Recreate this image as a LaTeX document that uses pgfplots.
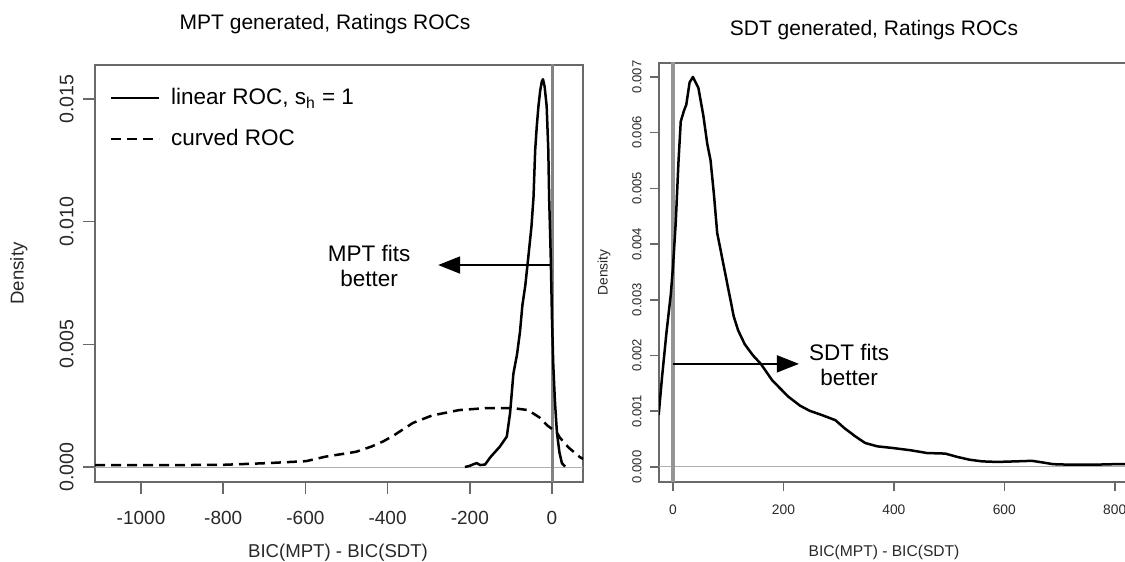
\documentclass[border=0pt]{standalone}
\usepackage{fontspec}
\setmainfont{Liberation Sans}
\usepackage{pgfplots}
\pgfplotsset{compat=1.18}
\usetikzlibrary{arrows.meta}
\definecolor{boxgray}{RGB}{105,105,105}
\definecolor{vgray}{RGB}{130,130,130}
\definecolor{hgray}{RGB}{175,175,175}
\definecolor{txt}{RGB}{40,40,40}

\pgfplotsset{
  rpanel/.style={
    scale only axis,
    axis line style={boxgray, line width=1pt},
    tick style={boxgray, line width=0.8pt},
    tick align=outside,
    xtick pos=lower, ytick pos=left,
    scaled ticks=false,
    clip=true,
    every tick label/.append style={text=txt},
    label style={text=txt},
  },
  densline/.style={black, line width=1.25pt, line join=round},
}

\begin{document}
\begin{tikzpicture}
% ---------- left: MPT generated ----------
\begin{axis}[rpanel,
  at={(0pt,0pt)}, anchor=south west,
  width=244pt, height=208.5pt,
  xmin=-1112, xmax=75.4, ymin=-0.00061, ymax=0.01638,
  major tick length=6pt,
  xtick={-1000,-800,-600,-400,-200,0},
  xticklabels={-1000,-800,-600,-400,-200,0},
  ytick={0,0.005,0.01,0.015},
  yticklabels={0.000,0.005,0.010,0.015},
  xticklabel style={font=\fontsize{9.5}{11}\selectfont, anchor=north, inner sep=0pt, yshift=-8.6pt},
  yticklabel style={font=\fontsize{9.8}{11}\selectfont, rotate=90, anchor=south, inner sep=0pt, yshift=4.5pt},
  xlabel={BIC(MPT) - BIC(SDT)},
  ylabel={Density},
  xlabel style={font=\fontsize{9.3}{11}\selectfont, at={(axis description cs:0.498,-0.170)}, anchor=center},
  ylabel style={font=\fontsize{9.3}{11}\selectfont, at={(axis description cs:-0.156,0.5)}, anchor=center},
  legend style={at={(axis description cs:0.029,0.955)}, anchor=north west, draw=none, fill=none,
    font=\fontsize{11.25}{13}\selectfont, inner sep=0pt, row sep=7pt, cells={anchor=west, text=black}},
  legend image code/.code={\draw[#1] (0pt,0pt) -- (24pt,0pt); \path (27.5pt,0pt);},
  legend cell align=left,
]
\addplot[hgray, line width=0.5pt, forget plot] coordinates {(-1200,0) (200,0)};
\addplot[vgray, line width=1.5pt, forget plot] coordinates {(0,-0.002) (0,0.02)};
\addplot[densline] coordinates {
(-212,0) (-200,0.00005) (-190,0.00012) (-183,0.00016) (-175,0.00008) (-163,0.0001)
(-150,0.0004) (-127,0.00083) (-110,0.00124) (-102,0.0022) (-94,0.0038) (-85,0.0046)
(-78,0.0055) (-72,0.0066) (-65,0.0074) (-58,0.0085) (-50,0.0098) (-45,0.011)
(-41,0.0129) (-37,0.0139) (-33,0.0147) (-29,0.0153) (-25,0.0157) (-22,0.0158)
(-18,0.0155) (-13,0.0147) (-9,0.0129) (-7,0.011) (-3,0.0085) (0,0.006) (3,0.0042)
(7,0.0027) (12,0.0014) (18,0.0006) (24,0.00016) (32,0.00002)
};
\addlegendentry{linear ROC, s\textsubscript{h} = 1}
\addplot[densline, dash pattern=on 5pt off 3pt] coordinates {
(-1112,0.00008) (-1000,0.00008) (-900,0.00008) (-800,0.00009) (-691,0.00016)
(-598,0.00024) (-552,0.00042) (-477,0.00062) (-440,0.00083) (-410,0.00105)
(-384,0.0013) (-338,0.0018) (-292,0.0021) (-226,0.00232) (-161,0.0024)
(-95,0.0024) (-58,0.00232) (-29,0.002) (-12,0.0017) (12,0.0014) (19,0.0012)
(40,0.0008) (68,0.0004) (76,0.00033)
};
\addlegendentry{curved ROC}
\draw[black, line width=0.9pt, -{Triangle[length=11pt, width=8.5pt]}]
  (axis cs:0,0.00823) -- (axis cs:-277,0.00823);
\node[align=center, font=\fontsize{11.25}{12.5}\selectfont, inner sep=0pt]
  at (axis cs:-445,0.00821) {MPT fits\\better};
\end{axis}
\node[font=\fontsize{10.5}{12}\selectfont, text=black] at (115pt,229pt) {MPT generated, Ratings ROCs};

% ---------- right: SDT generated ----------
\begin{axis}[rpanel,
  at={(282pt,0pt)}, anchor=south west,
  width=238.9pt, height=209.5pt,
  xmin=-25.4, xmax=840, ymin=-0.00027, ymax=0.00725,
  major tick length=4.5pt,
  xtick={0,200,400,600,800},
  xticklabels={0,200,400,600,800},
  ytick={0,0.001,0.002,0.003,0.004,0.005,0.006,0.007},
  yticklabels={0.000,0.001,0.002,0.003,0.004,0.005,0.006,0.007},
  xticklabel style={font=\fontsize{6.9}{8}\selectfont, anchor=north, inner sep=0pt, yshift=-6.6pt},
  yticklabel style={font=\fontsize{6.5}{8}\selectfont, rotate=90, anchor=south, inner sep=0pt, yshift=4pt},
  xlabel={BIC(MPT) - BIC(SDT)},
  ylabel={Density},
  xlabel style={font=\fontsize{7.8}{9}\selectfont, at={(axis description cs:0.471,-0.169)}, anchor=center},
  ylabel style={font=\fontsize{6.9}{8}\selectfont, at={(axis description cs:-0.115,0.5)}, anchor=center},
]
\addplot[hgray, line width=0.5pt] coordinates {(-100,0) (1000,0)};
\addplot[vgray!85, line width=1.8pt] coordinates {(0,-0.001) (0,0.01)};
\addplot[densline] coordinates {
(-26,0.00093) (-20,0.0016) (-12,0.0024) (-4,0.0031) (0,0.0036) (5,0.0044)
(10,0.0055) (14,0.0062) (20,0.0064) (24,0.0065) (30,0.0069) (36,0.0070)
(41,0.0069) (46,0.0068) (55,0.0063) (62,0.0058) (68,0.0055) (74,0.0049)
(80,0.0042) (90,0.0037) (102,0.0031) (110,0.0027) (118,0.00245) (130,0.0022)
(145,0.002) (159,0.00185) (180,0.00155) (209,0.00126) (230,0.0011) (247,0.00101)
(270,0.00093) (294,0.00084) (310,0.0007) (330,0.00055) (348,0.00043) (370,0.00037)
(398,0.00034) (430,0.0003) (460,0.00025) (493,0.00024) (515,0.00018) (537,0.00013)
(560,0.0001) (587,0.00009) (620,0.0001) (650,0.00011) (670,0.00008) (688,0.00005)
(720,0.00004) (760,0.00004) (800,0.00005) (830,0.00005)
};
\draw[black, line width=0.9pt, -{Triangle[length=11pt, width=8.5pt]}]
  (axis cs:0,0.00185) -- (axis cs:228,0.00185);
\node[align=center, font=\fontsize{11.25}{12.5}\selectfont, inner sep=0pt]
  at (axis cs:319,0.00183) {SDT fits\\better};
\end{axis}
\node[font=\fontsize{10.5}{12}\selectfont, text=black] at (389.5pt,226pt) {SDT generated, Ratings ROCs};

\pgfresetboundingbox
\useasboundingbox (-47.5pt,-40pt) rectangle (515pt,241pt);
\end{tikzpicture}
\end{document}
